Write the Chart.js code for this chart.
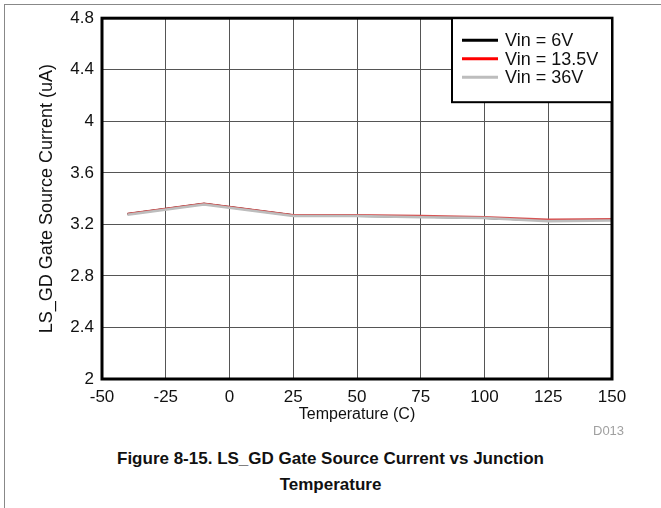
<!DOCTYPE html>
<html>
<head>
<meta charset="utf-8">
<script src="https://cdn.jsdelivr.net/npm/chart.js@4"></script>
<style>
  body { margin: 0; background: #fff; }
  #wrap { position: relative; width: 661px; height: 508px; overflow: hidden; font-family: "Liberation Sans", Arial, sans-serif; }
  #frame { position: absolute; left: 4px; top: 4px; width: 700px; height: 600px; border-left: 1px solid #888; border-top: 1px solid #888; }
  #myChart { position: absolute; left: 0; top: 0; }
  #code { position: absolute; left: 593px; top: 423px; font-size: 13px; color: #a0a0a0; }
  #caption { position: absolute; left: 0; width: 661px; top: 446px; text-align: center; font-weight: bold; font-size: 17px; line-height: 26px; color: #111; }
</style>
</head>
<body>
<div id="wrap">
  <div id="frame"></div>
  <canvas id="myChart" width="661" height="440"></canvas>
  <div id="code">D013</div>
  <div id="caption">Figure 8-15. LS_GD Gate Source Current vs Junction<br>Temperature</div>
</div>
<script>
"use strict"

// temperatures (C) and measured currents (uA) per input voltage
const temps = [-40, -10, 25, 50, 75, 100, 125, 150]
const vin_6 = [3.28, 3.36, 3.27, 3.265, 3.26, 3.25, 3.23, 3.235]
const vin_13_5 = [3.28, 3.36, 3.27, 3.27, 3.265, 3.255, 3.235, 3.24]
const vin_36 = [3.275, 3.355, 3.265, 3.265, 3.255, 3.25, 3.225, 3.23]
const x_ticks = [-50, -25, 0, 25, 50, 75, 100, 125, 150]
const y_ticks = [2, 2.4, 2.8, 3.2, 3.6, 4, 4.4, 4.8]

function to_points(vals){
    let pts = []
    for (const [i, t] of temps.entries()) {
        pts.push({x: t, y: vals[i]})
    }
    return pts
}

const fam = '"Liberation Sans", Arial, sans-serif'
const tick_font = {family: fam, size: 17}

// frame round the plot + legend box in the top right corner
const frame_and_legend = {
    id: 'frame_and_legend',
    afterDraw(chart) {
        const c = chart.ctx
        const a = chart.chartArea
        c.save()
        c.strokeStyle = '#000'
        c.lineWidth = 3
        c.strokeRect(a.left, a.top, a.right - a.left, a.bottom - a.top)

        const w = 160, h = 84
        const bx = a.right - w, by = a.top
        c.fillStyle = '#fff'
        c.fillRect(bx, by, w, h)
        c.lineWidth = 2
        c.strokeRect(bx, by, w, h)
        c.font = '18px ' + fam
        c.textBaseline = 'middle'
        // legend rows in the order of the labels, not the drawing order
        const ds_sorted = chart.data.datasets.slice().sort((p, q) => q.order - p.order)
        ds_sorted.forEach(function(ds, i){
            const yy = by + 22 + i * 18.5
            c.strokeStyle = ds.legendColor
            c.lineWidth = 3
            c.beginPath()
            c.moveTo(bx + 10, yy)
            c.lineTo(bx + 46, yy)
            c.stroke()
            c.fillStyle = '#111'
            c.fillText(ds.label, bx + 53, yy + 1)
        })
        c.restore()
    }
}

const ctx = document.getElementById('myChart')
const cur_chart = new Chart(ctx, {
    type: 'scatter',
    data: {
        datasets: [
            {label: 'Vin = 6V', data: to_points(vin_6), borderColor: '#000', legendColor: '#000', borderWidth: 2, order: 2},
            {label: 'Vin = 13.5V', data: to_points(vin_13_5), borderColor: '#d65555', legendColor: '#ff0000', borderWidth: 2.5, order: 1},
            {label: 'Vin = 36V', data: to_points(vin_36), borderColor: '#bdbdbd', legendColor: '#bdbdbd', borderWidth: 2.5, order: 0},
        ].map(d => Object.assign(d, {showLine: true, pointRadius: 0, tension: 0, fill: false}))
    },
    options: {
        responsive: false,
        animation: false,
        layout: {padding: {left: 0, top: 18, right: 49, bottom: 0}},
        plugins: {legend: {display: false}, tooltip: {enabled: false}},
        scales: {
            x: {
                type: 'linear', min: -50, max: 150,
                afterBuildTicks: s => { s.ticks = x_ticks.map(v => ({value: v})) },
                afterFit: s => { s.height = 61 },
                grid: {color: '#555', lineWidth: 1, drawTicks: false},
                border: {display: false},
                ticks: {font: tick_font, color: '#111', padding: 8},
                title: {display: true, text: 'Temperature (C)', font: {family: fam, size: 16}, color: '#111', padding: {top: 0, bottom: 16}}
            },
            y: {
                min: 2, max: 4.8,
                afterBuildTicks: s => { s.ticks = y_ticks.map(v => ({value: v})) },
                afterFit: s => { s.width = 102 },
                grid: {color: '#555', lineWidth: 1, drawTicks: false},
                border: {display: false},
                ticks: {font: tick_font, color: '#111', padding: 8, callback: v => String(v)},
                title: {display: true, text: 'LS_GD Gate Source Current (uA)', font: {family: fam, size: 18}, color: '#111', padding: {top: 36, bottom: 0}}
            }
        }
    },
    plugins: [frame_and_legend]
})
</script>
</body>
</html>
